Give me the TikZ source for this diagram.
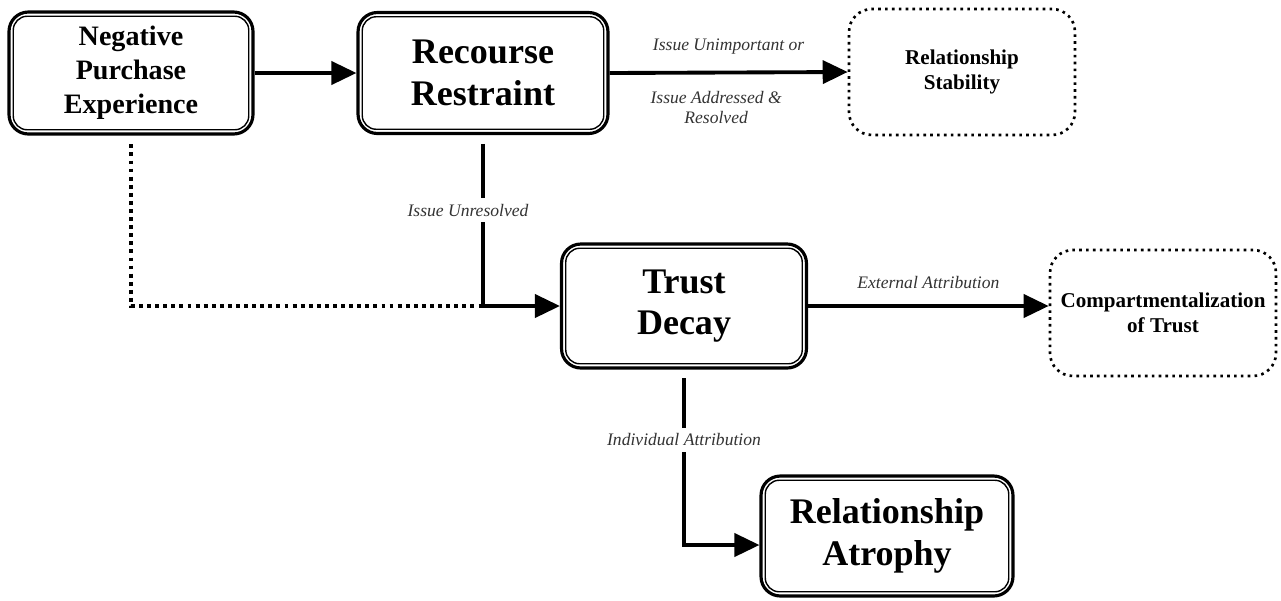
\documentclass[tikz,border=0pt]{standalone}
\usepackage{fontspec}
\setmainfont{Liberation Serif}
\usetikzlibrary{arrows.meta}
\usetikzlibrary{calc}

\begin{document}
\begin{tikzpicture}[x=0.02cm,y=-0.02cm,>={Triangle[length=0.5cm,width=0.46cm]},semithick]
  \tikzstyle{stage}=[draw, line width=1.8pt, rounded corners=11pt, align=center, font=\bfseries\fontsize{20.5}{23.5}\selectfont]
  \tikzstyle{rim}=[line width=0.8pt, rounded corners=8pt]
  \tikzstyle{result}=[draw, line width=1.5pt, dash pattern=on 1.5pt off 2.4pt, rounded corners=13pt, align=center, font=\bfseries\fontsize{12}{14.5}\selectfont, minimum width=4.52cm, minimum height=2.52cm]
  \tikzstyle{flow}=[->, line width=2.2pt]
  \tikzstyle{dotline}=[line width=2.2pt, dash pattern=on 2.2pt off 2.4pt]
  \tikzstyle{lbl}=[font=\itshape\fontsize{10}{11.5}\selectfont, text=black!80, align=center]
  \useasboundingbox (0,0) rectangle (1281,600);

  \node[stage, minimum width=4.88cm, minimum height=2.44cm, font=\bfseries\fontsize{16}{19.4}\selectfont] (npe) at (131,73) {Negative\\Purchase\\Experience};
  \node[stage, minimum width=5.0cm, minimum height=2.42cm] (rr) at (483,73) {Recourse\\Restraint};
  \node[result] (rs) at (962,72) {Relationship\\Stability};
  \node[stage, minimum width=4.9cm, minimum height=2.48cm] (td) at (684,306) {Trust\\Decay};
  \node[result] (cot) at (1163,313) {Compartmentalization\\of Trust};
  \node[stage, minimum width=5.04cm, minimum height=2.4cm] (ra) at (887,536) {Relationship\\Atrophy};

  % inner line of the double frames
  \foreach \n in {npe,rr,td,ra}
    \draw[rim] ($(\n.south west)+(3.3pt,3.3pt)$) rectangle ($(\n.north east)+(-3.3pt,-3.3pt)$);

  \draw[dotline, shorten <=5pt] (npe.south) |- (rr.south |- td.west);
  \draw[flow] (npe.east) -- (rr.west);
  \draw[flow] (rr.east) -- node[lbl, above=0.2cm] {Issue Unimportant or}
                           node[lbl, below=0.22cm, xshift=-0.25cm] {Issue Addressed \&\\Resolved} (rs.west);
  \draw[flow, shorten <=5pt] (rr.south) |- node[lbl, fill=white, pos=0.22, xshift=-0.3cm] {Issue Unresolved} (td.west);
  \draw[flow] (td.east) -- node[lbl, above=0.2cm] {External Attribution} (td.east -| cot.west);
  \draw[flow, shorten <=5pt] (td.south) |- node[lbl, fill=white, pos=0.2] {Individual Attribution} ($(ra.west)+(0,9)$);
\end{tikzpicture}
\end{document}
